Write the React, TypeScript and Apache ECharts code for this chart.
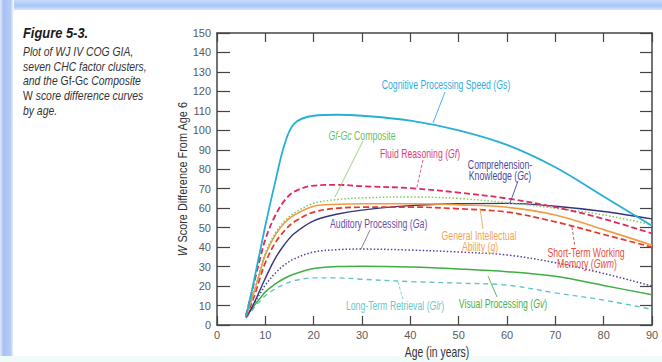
import React, { useEffect, useRef } from "react";
import * as echarts from "echarts";

const ages = [6, 7, 8, 9, 10, 12, 14, 16, 20, 25, 30, 40, 50, 60, 70, 80, 90];
const gsValues = [4.5, 15, 27, 39, 51, 73, 93, 103.5, 107.5, 108, 107.5, 105, 100, 92.5, 81, 66, 51];
const gfValues = [5, 15, 25, 35, 44, 56, 64, 68.5, 71.6, 72, 71.3, 70.3, 68, 65, 60.5, 54.5, 47];
const gfgcValues = [5, 12, 20, 29, 37, 47, 53.5, 57.5, 62.5, 64.5, 65.3, 65.8, 65, 62.8, 60, 56.5, 51.5];
const gValues = [5, 12, 19.5, 28, 36, 46, 52.5, 56.5, 61, 62, 62.3, 62.3, 61.7, 60.5, 56.5, 49, 41];
const gwmValues = [4, 10, 17, 25, 32, 42, 48.5, 53, 58, 60, 60.5, 60.6, 59.7, 58, 53, 46.5, 40];
const gcValues = [4, 8, 13, 18.5, 24, 34, 41.5, 47, 53.5, 57, 59, 61.3, 62.3, 62.5, 61, 58.3, 54.5];
const gaValues = [4, 8, 12.5, 16.5, 20.5, 26.5, 31, 34, 37.5, 38.7, 39, 38.5, 37.5, 36, 32, 26.5, 20];
const gvValues = [4, 7.5, 11, 14, 17, 21, 24, 26.2, 29, 30, 30.2, 29.8, 28.8, 27.4, 25, 20.3, 15.5];
const glrValues = [3.5, 6.5, 10, 12.5, 15, 18.5, 21, 22.8, 24.2, 24.2, 23.5, 22.3, 21.5, 20.5, 16.5, 12.8, 8];

const xMax = 90;
const yMax = 150;
const xTitle = "Age (in years)";
const yTitle = "{i|W} Score Difference From Age 6";

const FONT = "'Liberation Sans', Arial, sans-serif";

const pairs = (vals: number[]) => ages.map((a, i) => [a, vals[i]]);

export default function App() {
  const ref = useRef<HTMLDivElement>(null);
  useEffect(() => {
    document.body.style.margin = "0";
    const chart = echarts.init(ref.current!, null, { renderer: "svg" });

    const mk = (name: string, vals: number[], color: string, type: any, width: number) => ({
      name,
      type: "line",
      data: pairs(vals),
      smooth: 0.35,
      showSymbol: false,
      symbol: "none",
      lineStyle: { color, width, type, cap: "butt" },
    });

    const txt = (x: number, y: number, text: string, color: string, align = "center") => ({
      type: "text",
      x,
      y,
      z: 10,
      scaleX: 0.67,
      style: {
        text,
        fill: color,
        fontFamily: FONT,
        fontSize: 13,
        align,
        verticalAlign: "middle",
        rich: {
          i: { fontStyle: "italic", fill: color, fontFamily: FONT, fontSize: 13 },
        },
      },
    });

    const lead = (x1: number, y1: number, x2: number, y2: number, color: string, dashed = false) => ({
      type: "line",
      z: 10,
      shape: { x1, y1, x2, y2 },
      style: { stroke: color, lineWidth: 0.9, lineDash: dashed ? [3, 2] : null },
    });

    const capColor = "#333";
    const capStyle = (y: number, text: string) => ({
      type: "text",
      x: 23,
      y,
      z: 10,
      scaleX: 0.8,
      style: {
        text,
        fill: capColor,
        fontFamily: FONT,
        fontSize: 13,
        fontStyle: "italic",
        verticalAlign: "middle",
        rich: {
          n: { fontStyle: "normal", fill: capColor, fontFamily: FONT, fontSize: 13 },
        },
      },
    });

    const axisLineStyle = { color: "#444", width: 1.5 };
    const tickStyle = { color: "#444", width: 1.2 };

    chart.setOption({
      animation: false,
      backgroundColor: "#ffffff",
      grid: { left: 217, right: 10, top: 33, bottom: 37, outerBoundsMode: "none", containLabel: false },
      xAxis: [
        {
          type: "value",
          min: 0,
          max: xMax,
          interval: 10,
          position: "bottom",
          axisLine: { show: true, onZero: false, lineStyle: axisLineStyle },
          axisTick: { show: true, inside: true, length: 9, lineStyle: tickStyle },
          axisLabel: { fontFamily: FONT, fontSize: 11, color: "#5a5a5a", margin: 4 },
          splitLine: { show: false },
        },
        {
          type: "value",
          min: 0,
          max: xMax,
          interval: 10,
          position: "top",
          axisLine: { show: true, onZero: false, lineStyle: axisLineStyle },
          axisTick: { show: true, inside: true, length: 9, lineStyle: tickStyle },
          axisLabel: { show: false },
          splitLine: { show: false },
        },
      ],
      yAxis: [
        {
          type: "value",
          min: 0,
          max: yMax,
          interval: 10,
          position: "left",
          axisLine: { show: true, onZero: false, lineStyle: axisLineStyle },
          axisTick: { show: true, inside: true, length: 13, lineStyle: tickStyle },
          axisLabel: { fontFamily: FONT, fontSize: 11, color: "#5a5a5a", margin: 6 },
          splitLine: { show: false },
        },
        {
          type: "value",
          min: 0,
          max: yMax,
          interval: 10,
          position: "right",
          axisLine: { show: true, onZero: false, lineStyle: axisLineStyle },
          axisTick: { show: true, inside: true, length: 12, lineStyle: tickStyle },
          axisLabel: { show: false },
          splitLine: { show: false },
        },
      ],
      series: [
        mk("Long-Term Retrieval (Glr)", glrValues, "#62c2c4", [5, 4], 1.4),
        mk("Visual Processing (Gv)", gvValues, "#3fae45", "solid", 1.5),
        mk("Auditory Processing (Ga)", gaValues, "#5b3f9a", [1.5, 2], 1.5),
        mk("Comprehension-Knowledge (Gc)", gcValues, "#35357f", "solid", 1.4),
        mk("Short-Term Working Memory (Gwm)", gwmValues, "#e3372f", [6, 3], 1.7),
        mk("General Intellectual Ability (g)", gValues, "#f39a45", "solid", 1.6),
        mk("Gf-Gc Composite", gfgcValues, "#7cc96a", [1.5, 2], 1.5),
        mk("Fluid Reasoning (Gf)", gfValues, "#e0285e", [6, 3], 1.8),
        mk("Cognitive Processing Speed (Gs)", gsValues, "#25b0d4", "solid", 1.8),
      ],
      graphic: [
        {
          type: "rect",
          z: -10,
          silent: true,
          shape: { x: 0, y: 0, width: 662, height: 10 },
          style: {
            fill: new echarts.graphic.LinearGradient(0, 0, 0, 1, [
              { offset: 0, color: "#c7dafa" },
              { offset: 0.6, color: "#aac6f6" },
              { offset: 1, color: "#d6e4fb" },
            ]),
          },
        },
        {
          type: "rect",
          z: -10,
          silent: true,
          shape: { x: 0, y: 0, width: 14, height: 362 },
          style: {
            fill: new echarts.graphic.LinearGradient(0, 0, 1, 0, [
              { offset: 0, color: "#e2eafc" },
              { offset: 0.25, color: "#a9c1f4" },
              { offset: 0.75, color: "#b5cbf6" },
              { offset: 1, color: "#ffffff" },
            ]),
          },
        },
        {
          type: "rect",
          z: -10,
          silent: true,
          shape: { x: 0, y: 356, width: 662, height: 6 },
          style: { fill: "#eefbf8" },
        },
        {
          type: "rect",
          z: -9,
          silent: true,
          shape: { x: 13, y: 10, width: 660, height: 346, r: 6 },
          style: { fill: "#ffffff" },
        },
        {
          type: "text",
          x: 437,
          y: 352,
          z: 10,
          scaleX: 0.74,
          style: {
            text: xTitle,
            fill: "#333",
            fontFamily: FONT,
            fontSize: 14,
            align: "center",
            verticalAlign: "middle",
          },
        },
        {
          type: "text",
          x: 183,
          y: 179,
          z: 10,
          rotation: Math.PI / 2,
          scaleX: 0.84,
          style: {
            text: yTitle,
            fill: "#333",
            fontFamily: FONT,
            fontSize: 13,
            align: "center",
            verticalAlign: "middle",
            rich: { i: { fontStyle: "italic", fontFamily: FONT, fontSize: 13, fill: "#333" } },
          },
        },
        {
          type: "text",
          x: 23,
          y: 33,
          z: 10,
          scaleX: 0.86,
          style: {
            text: "Figure 5-3.",
            fill: "#1a1a1a",
            fontFamily: FONT,
            fontSize: 15,
            fontWeight: "bold",
            fontStyle: "italic",
            verticalAlign: "middle",
          },
        },
        capStyle(51, "Plot of WJ IV COG GIA,"),
        capStyle(66, "seven CHC factor clusters,"),
        capStyle(80, "and the {n|Gf-Gc} Composite"),
        capStyle(95, "{n|W} score difference curves"),
        capStyle(110, "by age."),
        txt(446, 84, "Cognitive Processing Speed ({i|Gs})", "#34ade0"),
        lead(445, 92, 433, 123, "#34ade0"),
        txt(362, 135, "{i|Gf-Gc} Composite", "#6cbf5a"),
        lead(363, 141, 335, 197, "#8ccf7c"),
        txt(420, 153, "Fluid Reasoning ({i|Gf})", "#e0407a"),
        lead(423, 160, 417, 187, "#e0407a", true),
        txt(500, 164, "Comprehension-", "#4a4a9a"),
        txt(500, 175, "Knowledge ({i|Gc})", "#4a4a9a"),
        lead(518, 181, 510, 203, "#4a4a9a"),
        txt(330, 223, "Auditory Processing ({i|Ga})", "#6a4ea6", "left"),
        lead(370, 230, 361, 249, "#777"),
        txt(479, 235, "General Intellectual", "#f0a55a"),
        txt(480, 246, "Ability ({i|g})", "#f0a55a"),
        lead(480, 208, 483, 229, "#f0a55a"),
        txt(586, 252, "Short-Term Working", "#e5503c"),
        txt(587, 263, "Memory ({i|Gwm})", "#e5503c"),
        lead(572, 227, 575, 247, "#c0504a", true),
        txt(395, 305, "Long-Term Retrieval ({i|Glr})", "#6cc8c8"),
        lead(398, 282, 403, 299, "#6cc8c8", true),
        txt(503, 303, "Visual Processing ({i|Gv})", "#4cb04c"),
        lead(488, 276, 497, 297, "#4cb04c"),
      ],
    });
    return () => chart.dispose();
  }, []);
  return <div ref={ref} style={{ position: "fixed", left: 0, top: 0, width: 662, height: 362 }} />;
}
